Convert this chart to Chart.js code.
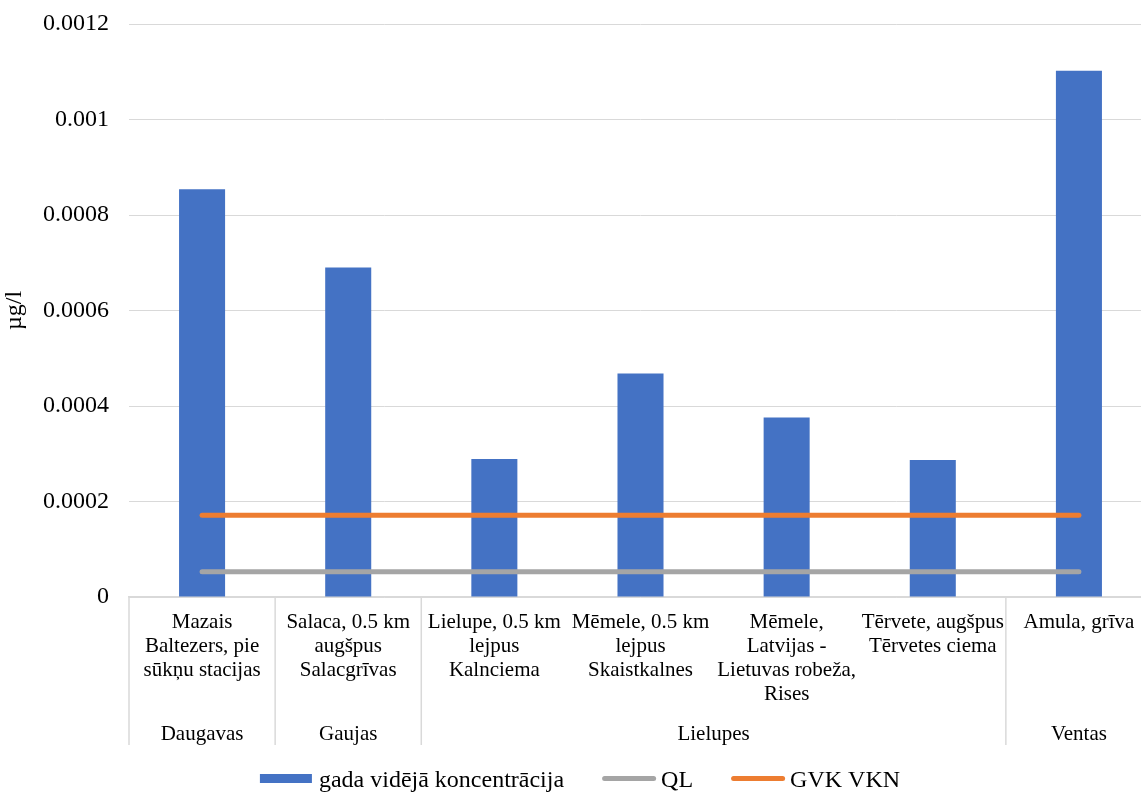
<!DOCTYPE html>
<html>
<head>
<meta charset="utf-8">
<script src="https://cdn.jsdelivr.net/npm/chart.js@4.4.0/dist/chart.umd.min.js"></script>
<style>
  html, body { margin: 0; padding: 0; background: #fff; overflow: hidden; }
  #wrap { width: 1160px; height: 792px; }
</style>
</head>
<body>
<div id="wrap"><canvas id="chart" width="1160" height="792"></canvas></div>
<script>
// Monitoring stations (line breaks as on the original axis)
const stations = [
    ['Mazais', 'Baltezers, pie', 'sūkņu stacijas'],
    ['Salaca, 0.5 km', 'augšpus', 'Salacgrīvas'],
    ['Lielupe, 0.5 km', 'lejpus', 'Kalnciema'],
    ['Mēmele, 0.5 km', 'lejpus', 'Skaistkalnes'],
    ['Mēmele,', 'Latvijas -', 'Lietuvas robeža,', 'Rises'],
    ['Tērvete, augšpus', 'Tērvetes ciema'],
    ['Amula, grīva']
];
// River basin of each station (second axis row)
const basins = ['Daugavas', 'Gaujas', 'Lielupes', 'Lielupes', 'Lielupes', 'Lielupes', 'Ventas'];

// Values in µg/l
const meanConc = [0.000854, 0.00069, 0.000289, 0.000468, 0.000376, 0.000287, 0.001102];
const qlValues = [0.000053, 0.000053, 0.000053, 0.000053, 0.000053, 0.000053, 0.000053];
const gvkValues = [0.000171, 0.000171, 0.000171, 0.000171, 0.000171, 0.000171, 0.000171];

const FONT = '"Liberation Serif", "Times New Roman", serif';

// Draws the basin row under the station labels, with the dividers
const basinAxis = {
    id: 'basinAxis',
    afterDraw(chart) {
        const ctx = chart.ctx;
        const xs = chart.scales.x;
        const top = chart.chartArea.bottom;
        const bottom = top + 148;
        const half = (xs.getPixelForValue(1) - xs.getPixelForValue(0)) / 2;
        ctx.save();
        ctx.strokeStyle = '#d9d9d9';
        ctx.lineWidth = 1.5;
        ctx.fillStyle = '#000';
        ctx.font = '21px ' + FONT;
        ctx.textAlign = 'center';
        ctx.textBaseline = 'alphabetic';
        let start = 0;
        for (let i = 1; i <= basins.length; i++) {
            if (i === basins.length || basins[i] !== basins[start]) {
                const left = xs.getPixelForValue(start) - half;
                const right = xs.getPixelForValue(i - 1) + half;
                ctx.beginPath();
                ctx.moveTo(left, top);
                ctx.lineTo(left, bottom);
                ctx.stroke();
                if (i === basins.length) {
                    ctx.beginPath();
                    ctx.moveTo(right, top);
                    ctx.lineTo(right, bottom);
                    ctx.stroke();
                }
                ctx.fillText(basins[start], (left + right) / 2, top + 143);
                start = i;
            }
        }
        ctx.restore();
    }
};

// Legend along the bottom edge
const bottomLegend = {
    id: 'bottomLegend',
    afterDraw(chart) {
        const ctx = chart.ctx;
        const y = 778.5;
        const symW = 54, symGap = 5, itemGap = 38;
        ctx.save();
        ctx.font = '24px ' + FONT;
        const items = chart.data.datasets.map(ds => ({
            text: ds.label,
            line: ds.type === 'line',
            color: ds.type === 'line' ? ds.borderColor : ds.backgroundColor,
            w: ctx.measureText(ds.label).width
        }));
        let total = 0;
        items.forEach((it, i) => { total += symW + symGap + it.w + (i ? itemGap : 0); });
        let x = chart.width / 2 - total / 2;
        ctx.textAlign = 'left';
        ctx.textBaseline = 'alphabetic';
        items.forEach(it => {
            if (it.line) {
                ctx.strokeStyle = it.color;
                ctx.lineWidth = 5;
                ctx.lineCap = 'round';
                ctx.beginPath();
                ctx.moveTo(x + 2.5, y);
                ctx.lineTo(x + symW - 2.5, y);
                ctx.stroke();
            } else {
                ctx.fillStyle = it.color;
                ctx.fillRect(x, y - 4.5, symW - 2, 9);
            }
            ctx.fillStyle = '#000';
            ctx.fillText(it.text, x + symW + symGap, y + 8.5);
            x += symW + symGap + it.w + itemGap;
        });
        ctx.restore();
    }
};

const ctx = document.getElementById('chart').getContext('2d');
new Chart(ctx, {
    data: {
        labels: stations,
        datasets: [
            {
                type: 'bar',
                label: 'gada vidējā koncentrācija',
                data: meanConc,
                backgroundColor: '#4472C4',
                barPercentage: 0.315,
                categoryPercentage: 1,
                order: 1
            },
            {
                type: 'line',
                label: 'QL',
                data: qlValues,
                borderColor: '#A5A5A5',
                backgroundColor: '#A5A5A5',
                borderWidth: 5,
                borderCapStyle: 'round',
                pointRadius: 0,
                order: 0
            },
            {
                type: 'line',
                label: 'GVK VKN',
                data: gvkValues,
                borderColor: '#ED7D31',
                backgroundColor: '#ED7D31',
                borderWidth: 5,
                borderCapStyle: 'round',
                pointRadius: 0,
                order: 0
            }
        ]
    },
    options: {
        responsive: false,
        animation: false,
        layout: { padding: { top: 24, right: 8, bottom: 0, left: 0 } },
        plugins: {
            legend: { display: false },
            tooltip: { enabled: false }
        },
        scales: {
            x: {
                grid: { display: false, drawTicks: false },
                border: { display: true, color: '#d9d9d9', width: 1.5 },
                ticks: {
                    autoSkip: false,
                    maxRotation: 0,
                    padding: 13,
                    color: '#000',
                    font: { family: FONT, size: 21, lineHeight: 1.15 }
                },
                afterFit(s) { s.height = 195; }
            },
            y: {
                min: 0,
                max: 0.0012,
                grid: { color: '#d9d9d9', drawTicks: false },
                border: { display: false },
                ticks: {
                    stepSize: 0.0002,
                    padding: 20,
                    color: '#000',
                    font: { family: FONT, size: 24 },
                    callback: v => v === 0 ? '0' : String(parseFloat(v.toFixed(4)))
                },
                title: {
                    display: true,
                    text: 'µg/l',
                    color: '#000',
                    font: { family: FONT, size: 24 },
                    padding: { top: 0, bottom: 0 }
                },
                afterFit(s) {
                    s.width = 129;
                    s.paddingTop = 0;
                    s.paddingBottom = 0;
                }
            }
        }
    },
    plugins: [basinAxis, bottomLegend]
});
</script>
</body>
</html>
